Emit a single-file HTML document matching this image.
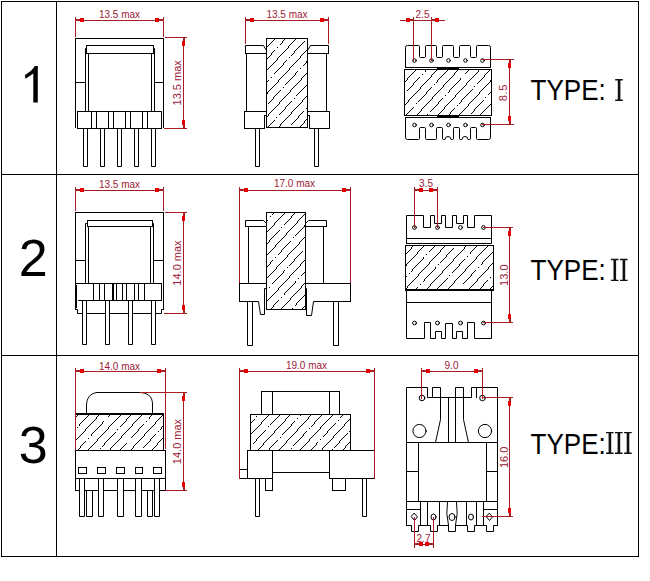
<!DOCTYPE html>
<html><head><meta charset="utf-8"><title>transformer types</title>
<style>
html,body{margin:0;padding:0;background:#fff;}
body{width:650px;height:581px;overflow:hidden;}
svg{display:block;}
text{font-family:"Liberation Sans",sans-serif;}
</style></head>
<body>
<svg width="650" height="581" viewBox="0 0 650 581">
<rect width="650" height="581" fill="#fff"/>
<g fill="none" stroke-width="1" stroke-linecap="square">
<rect x="1.5" y="1.5" width="637" height="555" stroke="#000" fill="none"/>
<path d="M56.5 1.5V556.5" stroke="#000"/>
<path d="M1.5 174.5H638.5" stroke="#000"/>
<path d="M1.5 355.5H638.5" stroke="#000"/>
<path d="M75.5 38.5V127.5" stroke="#000"/>
<path d="M163.5 38.5V127.5" stroke="#000"/>
<path d="M75.5 38.5H163.5" stroke="#000"/>
<path d="M75.5 82.5H85.5" stroke="#000"/>
<path d="M154.5 82.5H163.5" stroke="#000"/>
<rect x="86.5" y="45.5" width="67" height="8" stroke="#000" fill="none"/>
<path d="M86.5 48.5 L85.5 48.5 L85.5 111.5" stroke="#000"/>
<path d="M153.5 48.5 L154.5 48.5 L154.5 111.5" stroke="#000"/>
<path d="M88.5 53.5V111.5" stroke="#000"/>
<path d="M151.5 53.5V111.5" stroke="#000"/>
<rect x="77.5" y="111.5" width="84" height="17" stroke="#000" fill="none"/>
<path d="M91.5 111.5V128.5" stroke="#000"/>
<path d="M96.5 111.5V128.5" stroke="#000"/>
<path d="M108.5 111.5V128.5" stroke="#000"/>
<path d="M113.5 111.5V128.5" stroke="#000"/>
<path d="M125.5 111.5V128.5" stroke="#000"/>
<path d="M130.5 111.5V128.5" stroke="#000"/>
<path d="M142.5 111.5V128.5" stroke="#000"/>
<path d="M147.5 111.5V128.5" stroke="#000"/>
<path d="M83.5 128.5 L83.5 166.5 L87.5 166.5 L87.5 128.5" stroke="#000"/>
<path d="M100.5 128.5 L100.5 166.5 L104.5 166.5 L104.5 128.5" stroke="#000"/>
<path d="M117.5 128.5 L117.5 166.5 L121.5 166.5 L121.5 128.5" stroke="#000"/>
<path d="M134.5 128.5 L134.5 166.5 L138.5 166.5 L138.5 128.5" stroke="#000"/>
<path d="M151.5 128.5 L151.5 166.5 L155.5 166.5 L155.5 128.5" stroke="#000"/>
<path d="M75.5 17.5V36.5" stroke="#a81c24"/>
<path d="M163.5 17.5V36.5" stroke="#a81c24"/>
<path d="M75.5 20.5H163.5" stroke="#a81c24"/>
<rect x="76" y="19" width="4" height="2" fill="#a81c24" stroke="none"/>
<rect x="159" y="19" width="4" height="2" fill="#a81c24" stroke="none"/>
<rect x="80" y="18" width="4" height="4" fill="#e40000" stroke="none"/>
<rect x="155" y="18" width="4" height="4" fill="#e40000" stroke="none"/>
<text x="119.5" y="18" font-size="10" fill="#9c1a36" text-anchor="middle">13.5 max</text>
<path d="M165.5 37.5H186.5" stroke="#a81c24"/>
<path d="M164.5 128.5H186.5" stroke="#a81c24"/>
<path d="M183.5 37.5V128.5" stroke="#a81c24"/>
<rect x="183" y="38" width="2" height="3" fill="#a81c24" stroke="none"/>
<rect x="183" y="125" width="2" height="3" fill="#a81c24" stroke="none"/>
<rect x="182" y="41" width="3" height="5" fill="#e40000" stroke="none"/>
<rect x="182" y="120" width="3" height="5" fill="#e40000" stroke="none"/>
<text x="0" y="0" transform="translate(181 82.8) rotate(-90)" font-size="11" fill="#9c1a36" text-anchor="middle">13.5 max</text>
<path d="M274 39h1v1h-1zM273 40h1v1h-1zM272 41h1v1h-1zM271 42h1v1h-1zM270 43h1v1h-1zM269 44h1v1h-1zM268 45h1v1h-1zM267 46h1v1h-1zM284 39h1v1h-1zM283 40h1v1h-1zM282 41h1v2h-1zM281 43h1v1h-1zM280 44h1v1h-1zM277 47h1v1h-1zM274 50h1v1h-1zM273 51h1v1h-1zM272 52h1v1h-1zM271 53h1v2h-1zM270 55h1v1h-1zM269 56h1v1h-1zM268 57h1v1h-1zM267 58h1v1h-1zM295 39h1v1h-1zM294 40h1v1h-1zM293 41h1v1h-1zM292 42h1v1h-1zM291 43h1v1h-1zM290 44h1v1h-1zM289 45h1v1h-1zM288 46h1v2h-1zM287 48h1v1h-1zM286 49h1v1h-1zM285 50h1v1h-1zM284 51h1v1h-1zM283 52h1v1h-1zM282 53h1v1h-1zM281 54h1v1h-1zM280 55h1v1h-1zM279 56h1v1h-1zM278 57h1v1h-1zM277 58h1v2h-1zM276 60h1v1h-1zM275 61h1v1h-1zM274 62h1v1h-1zM273 63h1v1h-1zM272 64h1v1h-1zM271 65h1v1h-1zM270 66h1v1h-1zM269 67h1v1h-1zM268 68h1v1h-1zM267 69h1v1h-1zM304 41h1v1h-1zM303 42h1v1h-1zM302 43h1v1h-1zM301 44h1v1h-1zM300 45h1v1h-1zM299 46h1v1h-1zM298 47h1v1h-1zM297 48h1v1h-1zM296 49h1v1h-1zM295 50h1v1h-1zM294 51h1v2h-1zM293 53h1v1h-1zM292 54h1v1h-1zM291 55h1v1h-1zM289 57h1v1h-1zM286 60h1v1h-1zM285 61h1v1h-1zM284 62h1v1h-1zM283 63h1v2h-1zM282 65h1v1h-1zM281 66h1v1h-1zM280 67h1v1h-1zM279 68h1v1h-1zM278 69h1v1h-1zM277 70h1v1h-1zM276 71h1v1h-1zM275 72h1v1h-1zM274 73h1v1h-1zM271 77h1v1h-1zM268 80h1v1h-1zM267 81h1v1h-1zM306 50h1v1h-1zM305 51h1v1h-1zM304 52h1v1h-1zM303 53h1v1h-1zM302 54h1v1h-1zM301 55h1v1h-1zM300 56h1v2h-1zM299 58h1v1h-1zM298 59h1v1h-1zM297 60h1v1h-1zM296 61h1v1h-1zM295 62h1v1h-1zM294 63h1v1h-1zM293 64h1v1h-1zM292 65h1v1h-1zM291 66h1v1h-1zM290 67h1v1h-1zM289 68h1v2h-1zM288 70h1v1h-1zM287 71h1v1h-1zM286 72h1v1h-1zM285 73h1v1h-1zM284 74h1v1h-1zM283 75h1v1h-1zM282 76h1v1h-1zM281 77h1v1h-1zM280 78h1v1h-1zM279 79h1v1h-1zM278 80h1v2h-1zM277 82h1v1h-1zM276 83h1v1h-1zM275 84h1v1h-1zM274 85h1v1h-1zM273 86h1v1h-1zM272 87h1v1h-1zM271 88h1v1h-1zM270 89h1v1h-1zM269 90h1v1h-1zM268 91h1v1h-1zM267 92h1v2h-1zM306 61h1v2h-1zM305 63h1v1h-1zM304 64h1v1h-1zM303 65h1v1h-1zM300 68h1v1h-1zM297 71h1v1h-1zM296 72h1v1h-1zM295 73h1v2h-1zM294 75h1v1h-1zM293 76h1v1h-1zM292 77h1v1h-1zM291 78h1v1h-1zM290 79h1v1h-1zM289 80h1v1h-1zM288 81h1v1h-1zM287 82h1v1h-1zM286 83h1v1h-1zM285 84h1v1h-1zM283 87h1v1h-1zM280 90h1v1h-1zM279 91h1v1h-1zM278 92h1v1h-1zM277 93h1v1h-1zM276 94h1v1h-1zM275 95h1v1h-1zM274 96h1v1h-1zM273 97h1v2h-1zM272 99h1v1h-1zM271 100h1v1h-1zM270 101h1v1h-1zM269 102h1v1h-1zM268 103h1v1h-1zM306 73h1v1h-1zM305 74h1v1h-1zM304 75h1v1h-1zM303 76h1v1h-1zM302 77h1v1h-1zM301 78h1v2h-1zM300 80h1v1h-1zM299 81h1v1h-1zM298 82h1v1h-1zM297 83h1v1h-1zM296 84h1v1h-1zM295 85h1v1h-1zM294 86h1v1h-1zM293 87h1v1h-1zM292 88h1v1h-1zM291 89h1v1h-1zM290 90h1v2h-1zM289 92h1v1h-1zM288 93h1v1h-1zM287 94h1v1h-1zM286 95h1v1h-1zM285 96h1v1h-1zM284 97h1v1h-1zM283 98h1v1h-1zM282 99h1v1h-1zM281 100h1v1h-1zM280 101h1v1h-1zM279 102h1v2h-1zM278 104h1v1h-1zM277 105h1v1h-1zM276 106h1v1h-1zM275 107h1v1h-1zM274 108h1v1h-1zM273 109h1v1h-1zM272 110h1v1h-1zM271 111h1v1h-1zM270 112h1v1h-1zM269 113h1v1h-1zM268 114h1v2h-1zM267 116h1v1h-1zM306 85h1v1h-1zM305 86h1v1h-1zM304 87h1v1h-1zM303 88h1v1h-1zM302 89h1v1h-1zM301 90h1v1h-1zM300 91h1v1h-1zM299 92h1v1h-1zM298 93h1v1h-1zM297 94h1v1h-1zM296 95h1v1h-1zM294 98h1v1h-1zM291 101h1v1h-1zM290 102h1v1h-1zM289 103h1v1h-1zM288 104h1v1h-1zM287 105h1v1h-1zM286 106h1v1h-1zM285 107h1v2h-1zM284 109h1v1h-1zM283 110h1v1h-1zM282 111h1v1h-1zM281 112h1v1h-1zM280 113h1v1h-1zM279 114h1v1h-1zM276 117h1v1h-1zM274 120h1v1h-1zM273 121h1v1h-1zM272 122h1v1h-1zM271 123h1v1h-1zM270 124h1v1h-1zM269 125h1v1h-1zM268 126h1v1h-1zM306 96h1v1h-1zM305 97h1v1h-1zM304 98h1v1h-1zM303 99h1v1h-1zM302 100h1v2h-1zM301 102h1v1h-1zM300 103h1v1h-1zM299 104h1v1h-1zM298 105h1v1h-1zM297 106h1v1h-1zM296 107h1v1h-1zM295 108h1v1h-1zM294 109h1v1h-1zM293 110h1v1h-1zM292 111h1v1h-1zM291 112h1v2h-1zM290 114h1v1h-1zM289 115h1v1h-1zM288 116h1v1h-1zM287 117h1v1h-1zM286 118h1v1h-1zM285 119h1v1h-1zM284 120h1v1h-1zM283 121h1v1h-1zM282 122h1v1h-1zM281 123h1v1h-1zM280 124h1v2h-1zM279 126h1v1h-1zM306 108h1v1h-1zM303 111h1v1h-1zM302 112h1v1h-1zM301 113h1v1h-1zM300 114h1v1h-1zM299 115h1v1h-1zM298 116h1v2h-1zM297 118h1v1h-1zM296 119h1v1h-1zM295 120h1v1h-1zM294 121h1v1h-1zM293 122h1v1h-1zM292 123h1v1h-1zM291 124h1v1h-1zM306 119h1v1h-1zM305 120h1v1h-1zM304 121h1v2h-1zM303 123h1v1h-1zM302 124h1v1h-1zM301 125h1v1h-1zM300 126h1v1h-1z" fill="#000" stroke="none"/>
<rect x="266.5" y="38.5" width="41" height="89" stroke="#000" fill="none"/>
<path d="M245.5 53.5 L245.5 45.5 L263.5 45.5 L266.5 50.5" stroke="#000"/>
<path d="M245.5 53.5H266.5" stroke="#000"/>
<path d="M328.5 53.5 L328.5 45.5 L310.5 45.5 L307.5 50.5" stroke="#000"/>
<path d="M307.5 53.5H328.5" stroke="#000"/>
<path d="M246.5 53.5V111.5" stroke="#000"/>
<path d="M326.5 53.5V111.5" stroke="#000"/>
<path d="M244.5 111.5H266.5" stroke="#000"/>
<path d="M244.5 111.5V128.5" stroke="#000"/>
<path d="M244.5 128.5H264.5" stroke="#000"/>
<path d="M264.5 115.5V128.5" stroke="#000"/>
<path d="M264.5 115.5H266.5" stroke="#000"/>
<path d="M307.5 111.5H329.5" stroke="#000"/>
<path d="M329.5 111.5V128.5" stroke="#000"/>
<path d="M309.5 128.5H329.5" stroke="#000"/>
<path d="M309.5 115.5V128.5" stroke="#000"/>
<path d="M307.5 115.5H309.5" stroke="#000"/>
<path d="M255.5 128.5 L255.5 166.5 L259.5 166.5 L259.5 128.5" stroke="#000"/>
<path d="M314.5 128.5 L314.5 166.5 L318.5 166.5 L318.5 128.5" stroke="#000"/>
<path d="M245.5 17.5V43.5" stroke="#a81c24"/>
<path d="M328.5 17.5V43.5" stroke="#a81c24"/>
<path d="M245.5 20.5H328.5" stroke="#a81c24"/>
<rect x="246" y="19" width="4" height="2" fill="#a81c24" stroke="none"/>
<rect x="324" y="19" width="4" height="2" fill="#a81c24" stroke="none"/>
<rect x="250" y="18" width="4" height="4" fill="#e40000" stroke="none"/>
<rect x="320" y="18" width="4" height="4" fill="#e40000" stroke="none"/>
<text x="287" y="18.4" font-size="10" fill="#9c1a36" text-anchor="middle">13.5 max</text>
<path d="M405.5 67.5V47.5Q405.5 45.5 407.5 45.5H418.5Q419.5 45.5 419.5 46.5V56.5Q419.5 57.5 420.5 57.5H424.5Q425.5 57.5 425.5 56.5V46.5Q425.5 45.5 426.5 45.5H435.5Q436.5 45.5 436.5 46.5V56.5Q436.5 57.5 437.5 57.5H441.5Q442.5 57.5 442.5 56.5V46.5Q442.5 45.5 443.5 45.5H452.5Q453.5 45.5 453.5 46.5V56.5Q453.5 57.5 454.5 57.5H458.5Q459.5 57.5 459.5 56.5V46.5Q459.5 45.5 460.5 45.5H469.5Q470.5 45.5 470.5 46.5V56.5Q470.5 57.5 471.5 57.5H475.5Q476.5 57.5 476.5 56.5V46.5Q476.5 45.5 477.5 45.5H488.5Q490.5 45.5 490.5 47.5V67.5" stroke="#000" />
<path d="M405.5 67.5H490.5" stroke="#000"/>
<circle cx="414.5" cy="60.5" r="1.8" stroke="#000" fill="none"/>
<circle cx="431.5" cy="60.5" r="1.8" stroke="#000" fill="none"/>
<circle cx="448.5" cy="60.5" r="1.8" stroke="#000" fill="none"/>
<circle cx="465.5" cy="60.5" r="1.8" stroke="#000" fill="none"/>
<circle cx="482.5" cy="60.5" r="1.8" stroke="#000" fill="none"/>
<path d="M415 70h1v1h-1zM414 71h1v1h-1zM413 72h1v1h-1zM412 73h1v1h-1zM411 74h1v1h-1zM410 75h1v1h-1zM409 76h1v1h-1zM408 77h1v1h-1zM407 78h1v2h-1zM406 80h1v1h-1zM405 81h1v1h-1zM425 70h1v2h-1zM422 74h1v1h-1zM419 77h1v1h-1zM418 78h1v1h-1zM417 79h1v1h-1zM416 80h1v1h-1zM415 81h1v1h-1zM414 82h1v1h-1zM413 83h1v2h-1zM412 85h1v1h-1zM411 86h1v1h-1zM410 87h1v1h-1zM409 88h1v1h-1zM408 89h1v1h-1zM407 90h1v1h-1zM436 70h1v1h-1zM435 71h1v1h-1zM434 72h1v1h-1zM433 73h1v1h-1zM432 74h1v1h-1zM431 75h1v2h-1zM430 77h1v1h-1zM429 78h1v1h-1zM428 79h1v1h-1zM427 80h1v1h-1zM426 81h1v1h-1zM425 82h1v1h-1zM424 83h1v1h-1zM423 84h1v1h-1zM422 85h1v1h-1zM421 86h1v1h-1zM420 87h1v2h-1zM419 89h1v1h-1zM418 90h1v1h-1zM417 91h1v1h-1zM416 92h1v1h-1zM415 93h1v1h-1zM414 94h1v1h-1zM413 95h1v1h-1zM412 96h1v1h-1zM411 97h1v1h-1zM410 98h1v1h-1zM409 99h1v1h-1zM408 100h1v2h-1zM407 102h1v1h-1zM406 103h1v1h-1zM405 104h1v1h-1zM447 70h1v1h-1zM446 71h1v1h-1zM445 72h1v1h-1zM444 73h1v1h-1zM443 74h1v1h-1zM442 75h1v1h-1zM441 76h1v1h-1zM440 77h1v1h-1zM439 78h1v1h-1zM438 79h1v1h-1zM437 80h1v2h-1zM436 82h1v1h-1zM434 84h1v1h-1zM431 87h1v1h-1zM430 88h1v1h-1zM429 89h1v1h-1zM428 90h1v1h-1zM427 91h1v1h-1zM426 92h1v2h-1zM425 94h1v1h-1zM424 95h1v1h-1zM423 96h1v1h-1zM422 97h1v1h-1zM421 98h1v1h-1zM420 99h1v1h-1zM419 100h1v1h-1zM418 101h1v1h-1zM416 103h1v1h-1zM413 107h1v1h-1zM412 108h1v1h-1zM411 109h1v1h-1zM410 110h1v1h-1zM409 111h1v1h-1zM408 112h1v1h-1zM407 113h1v1h-1zM406 114h1v1h-1zM457 70h1v1h-1zM456 71h1v1h-1zM455 72h1v1h-1zM454 73h1v2h-1zM453 75h1v1h-1zM452 76h1v1h-1zM451 77h1v1h-1zM450 78h1v1h-1zM449 79h1v1h-1zM448 80h1v1h-1zM447 81h1v1h-1zM446 82h1v1h-1zM445 83h1v1h-1zM444 84h1v1h-1zM443 85h1v2h-1zM442 87h1v1h-1zM441 88h1v1h-1zM440 89h1v1h-1zM439 90h1v1h-1zM438 91h1v1h-1zM437 92h1v1h-1zM436 93h1v1h-1zM435 94h1v1h-1zM434 95h1v1h-1zM433 96h1v1h-1zM432 97h1v2h-1zM431 99h1v1h-1zM430 100h1v1h-1zM429 101h1v1h-1zM428 102h1v1h-1zM427 103h1v1h-1zM426 104h1v1h-1zM425 105h1v1h-1zM424 106h1v1h-1zM423 107h1v1h-1zM422 108h1v1h-1zM421 109h1v2h-1zM420 111h1v1h-1zM419 112h1v1h-1zM418 113h1v1h-1zM417 114h1v1h-1zM468 70h1v1h-1zM467 71h1v1h-1zM466 72h1v1h-1zM465 73h1v1h-1zM460 78h1v2h-1zM459 80h1v1h-1zM458 81h1v1h-1zM457 82h1v1h-1zM456 83h1v1h-1zM455 84h1v1h-1zM454 85h1v1h-1zM453 86h1v1h-1zM452 87h1v1h-1zM451 88h1v1h-1zM450 89h1v1h-1zM449 90h1v2h-1zM448 92h1v1h-1zM445 95h1v1h-1zM442 98h1v1h-1zM441 99h1v1h-1zM440 100h1v1h-1zM439 101h1v1h-1zM438 102h1v2h-1zM437 104h1v1h-1zM436 105h1v1h-1zM435 106h1v1h-1zM434 107h1v1h-1zM433 108h1v1h-1zM432 109h1v1h-1zM431 110h1v1h-1zM430 111h1v1h-1zM427 114h1v1h-1zM478 70h1v2h-1zM477 72h1v1h-1zM476 73h1v1h-1zM475 74h1v1h-1zM474 75h1v1h-1zM473 76h1v1h-1zM472 77h1v1h-1zM471 78h1v1h-1zM470 79h1v1h-1zM469 80h1v1h-1zM468 81h1v1h-1zM467 82h1v1h-1zM466 83h1v2h-1zM465 85h1v1h-1zM464 86h1v1h-1zM463 87h1v1h-1zM462 88h1v1h-1zM461 89h1v1h-1zM460 90h1v1h-1zM459 91h1v1h-1zM458 92h1v1h-1zM457 93h1v1h-1zM456 94h1v1h-1zM455 95h1v2h-1zM454 97h1v1h-1zM453 98h1v1h-1zM452 99h1v1h-1zM451 100h1v1h-1zM450 101h1v1h-1zM449 102h1v1h-1zM448 103h1v1h-1zM447 104h1v1h-1zM446 105h1v1h-1zM445 106h1v1h-1zM444 107h1v2h-1zM443 109h1v1h-1zM442 110h1v1h-1zM441 111h1v1h-1zM440 112h1v1h-1zM439 113h1v1h-1zM438 114h1v1h-1zM489 70h1v1h-1zM488 71h1v1h-1zM487 72h1v1h-1zM486 73h1v1h-1zM485 74h1v1h-1zM484 75h1v2h-1zM483 77h1v1h-1zM482 78h1v1h-1zM481 79h1v1h-1zM480 80h1v1h-1zM479 81h1v1h-1zM478 82h1v1h-1zM477 83h1v1h-1zM474 86h1v1h-1zM472 89h1v1h-1zM471 90h1v1h-1zM470 91h1v1h-1zM469 92h1v1h-1zM468 93h1v1h-1zM467 94h1v1h-1zM466 95h1v1h-1zM465 96h1v1h-1zM464 97h1v1h-1zM463 98h1v1h-1zM462 99h1v1h-1zM461 100h1v2h-1zM460 102h1v1h-1zM459 103h1v1h-1zM457 105h1v1h-1zM454 108h1v1h-1zM453 109h1v1h-1zM452 110h1v1h-1zM451 111h1v1h-1zM450 112h1v2h-1zM449 114h1v1h-1zM490 80h1v2h-1zM489 82h1v1h-1zM488 83h1v1h-1zM487 84h1v1h-1zM486 85h1v1h-1zM485 86h1v1h-1zM484 87h1v1h-1zM483 88h1v1h-1zM482 89h1v1h-1zM481 90h1v1h-1zM480 91h1v1h-1zM479 92h1v2h-1zM478 94h1v1h-1zM477 95h1v1h-1zM476 96h1v1h-1zM475 97h1v1h-1zM474 98h1v1h-1zM473 99h1v1h-1zM472 100h1v1h-1zM471 101h1v1h-1zM470 102h1v1h-1zM469 103h1v1h-1zM468 104h1v2h-1zM467 106h1v1h-1zM466 107h1v1h-1zM465 108h1v1h-1zM464 109h1v1h-1zM463 110h1v1h-1zM462 111h1v1h-1zM461 112h1v1h-1zM460 113h1v1h-1zM459 114h1v1h-1zM490 92h1v1h-1zM489 93h1v1h-1zM488 94h1v1h-1zM485 97h1v1h-1zM483 100h1v1h-1zM482 101h1v1h-1zM481 102h1v1h-1zM480 103h1v1h-1zM479 104h1v1h-1zM478 105h1v1h-1zM477 106h1v1h-1zM476 107h1v1h-1zM475 108h1v1h-1zM474 109h1v2h-1zM473 111h1v1h-1zM472 112h1v1h-1zM471 113h1v1h-1zM490 104h1v1h-1zM489 105h1v1h-1zM488 106h1v1h-1zM487 107h1v1h-1zM486 108h1v1h-1zM485 109h1v1h-1zM484 110h1v1h-1zM483 111h1v1h-1zM482 112h1v1h-1zM481 113h1v1h-1zM480 114h1v1h-1z" fill="#000" stroke="none"/>
<rect x="404.5" y="69.5" width="87" height="46" stroke="#000" fill="none"/>
<rect x="437" y="67" width="22" height="3" fill="#000" stroke="none"/>
<rect x="437" y="115" width="22" height="3" fill="#000" stroke="none"/>
<path d="M405.5 117.5H490.5" stroke="#000"/>
<path d="M405.5 117.5V137.5Q405.5 139.5 407.5 139.5H418.5Q419.5 139.5 419.5 138.5V128.5Q419.5 127.5 420.5 127.5H424.5Q425.5 127.5 425.5 128.5V138.5Q425.5 139.5 426.5 139.5H435.5Q436.5 139.5 436.5 138.5V128.5Q436.5 127.5 437.5 127.5H441.5Q442.5 127.5 442.5 128.5V138.5Q442.5 139.5 443.5 139.5H445.0A3 3 0 0 1 451.0 139.5H452.5Q453.5 139.5 453.5 138.5V128.5Q453.5 127.5 454.5 127.5H458.5Q459.5 127.5 459.5 128.5V138.5Q459.5 139.5 460.5 139.5H462.0A3 3 0 0 1 468.0 139.5H469.5Q470.5 139.5 470.5 138.5V128.5Q470.5 127.5 471.5 127.5H475.5Q476.5 127.5 476.5 128.5V138.5Q476.5 139.5 477.5 139.5H488.5Q490.5 139.5 490.5 137.5V117.5" stroke="#000" />
<circle cx="414.5" cy="125" r="1.8" stroke="#000" fill="none"/>
<circle cx="431.5" cy="125" r="1.8" stroke="#000" fill="none"/>
<circle cx="448.5" cy="125" r="1.8" stroke="#000" fill="none"/>
<circle cx="465.5" cy="125" r="1.8" stroke="#000" fill="none"/>
<circle cx="482.5" cy="125" r="1.8" stroke="#000" fill="none"/>
<path d="M413.5 17.5V60.5" stroke="#a81c24"/>
<path d="M431.5 17.5V60.5" stroke="#a81c24"/>
<path d="M400.5 20.5H444.5" stroke="#a81c24"/>
<rect x="410" y="19" width="3" height="2" fill="#a81c24" stroke="none"/>
<rect x="432" y="19" width="3" height="2" fill="#a81c24" stroke="none"/>
<rect x="406" y="18" width="4" height="4" fill="#e40000" stroke="none"/>
<rect x="435" y="18" width="4" height="4" fill="#e40000" stroke="none"/>
<text x="422.5" y="17.5" font-size="10" fill="#9c1a36" text-anchor="middle">2.5</text>
<path d="M482.5 59.5H513.5" stroke="#a81c24"/>
<path d="M482.5 124.5H513.5" stroke="#a81c24"/>
<path d="M509.5 59.5V124.5" stroke="#a81c24"/>
<rect x="509" y="60" width="2" height="3" fill="#a81c24" stroke="none"/>
<rect x="509" y="121" width="2" height="3" fill="#a81c24" stroke="none"/>
<rect x="508" y="63" width="3" height="5" fill="#e40000" stroke="none"/>
<rect x="508" y="116" width="3" height="5" fill="#e40000" stroke="none"/>
<text x="0" y="0" transform="translate(507 92.6) rotate(-90)" font-size="11" fill="#9c1a36" text-anchor="middle" letter-spacing="0.6">8.5</text>
<path d="M75.5 212.5V309.5" stroke="#000"/>
<path d="M163.5 212.5V309.5" stroke="#000"/>
<path d="M75.5 212.5H163.5" stroke="#000"/>
<path d="M75.5 260.5H85.5" stroke="#000"/>
<path d="M153.5 260.5H163.5" stroke="#000"/>
<rect x="87.5" y="220.5" width="65" height="6" stroke="#000" fill="none"/>
<path d="M87.5 223.5 L85.5 223.5 L85.5 283.5" stroke="#000"/>
<path d="M152.5 223.5 L153.5 223.5 L153.5 283.5" stroke="#000"/>
<path d="M88.5 226.5V283.5" stroke="#000"/>
<path d="M150.5 226.5V283.5" stroke="#000"/>
<path d="M75.5 283.5H161.5" stroke="#000"/>
<path d="M78.5 300.5H161.5" stroke="#000"/>
<path d="M161.5 283.5V300.5" stroke="#000"/>
<path d="M76.5 285.5V307.5" stroke="#000"/>
<path d="M93.5 283.5V300.5" stroke="#000"/>
<path d="M99.5 283.5V300.5" stroke="#000"/>
<path d="M104.5 283.5V300.5" stroke="#000"/>
<path d="M112.5 283.5V300.5" stroke="#000"/>
<path d="M113.5 283.5V300.5" stroke="#000"/>
<path d="M116.5 283.5V300.5" stroke="#000"/>
<path d="M122.5 283.5V300.5" stroke="#000"/>
<path d="M126.5 283.5V300.5" stroke="#000"/>
<path d="M134.5 283.5V300.5" stroke="#000"/>
<path d="M138.5 283.5V300.5" stroke="#000"/>
<path d="M144.5 283.5V300.5" stroke="#000"/>
<path d="M75.5 309.5 L77.5 309.5 L77.5 313.5 L161.5 313.5 L161.5 309.5 L163.5 309.5" stroke="#000"/>
<rect x="83" y="301" width="3" height="13" fill="#fff" stroke="none"/>
<path d="M82.5 300.5 L82.5 344.5 L86.5 344.5 L86.5 300.5" stroke="#000"/>
<rect x="106" y="301" width="3" height="13" fill="#fff" stroke="none"/>
<path d="M105.5 300.5 L105.5 344.5 L109.5 344.5 L109.5 300.5" stroke="#000"/>
<rect x="129" y="301" width="3" height="13" fill="#fff" stroke="none"/>
<path d="M128.5 300.5 L128.5 344.5 L132.5 344.5 L132.5 300.5" stroke="#000"/>
<rect x="152" y="301" width="3" height="13" fill="#fff" stroke="none"/>
<path d="M151.5 300.5 L151.5 344.5 L155.5 344.5 L155.5 300.5" stroke="#000"/>
<path d="M75.5 187.5V210.5" stroke="#a81c24"/>
<path d="M163.5 187.5V210.5" stroke="#a81c24"/>
<path d="M75.5 190.5H163.5" stroke="#a81c24"/>
<rect x="76" y="189" width="4" height="2" fill="#a81c24" stroke="none"/>
<rect x="159" y="189" width="4" height="2" fill="#a81c24" stroke="none"/>
<rect x="80" y="188" width="4" height="4" fill="#e40000" stroke="none"/>
<rect x="155" y="188" width="4" height="4" fill="#e40000" stroke="none"/>
<text x="119.5" y="187.5" font-size="10" fill="#9c1a36" text-anchor="middle">13.5 max</text>
<path d="M165.5 212.5H186.5" stroke="#a81c24"/>
<path d="M164.5 313.5H186.5" stroke="#a81c24"/>
<path d="M183.5 212.5V313.5" stroke="#a81c24"/>
<rect x="183" y="213" width="2" height="3" fill="#a81c24" stroke="none"/>
<rect x="183" y="310" width="2" height="3" fill="#a81c24" stroke="none"/>
<rect x="182" y="216" width="3" height="5" fill="#e40000" stroke="none"/>
<rect x="182" y="305" width="3" height="5" fill="#e40000" stroke="none"/>
<text x="0" y="0" transform="translate(181 263) rotate(-90)" font-size="11" fill="#9c1a36" text-anchor="middle">14.0 max</text>
<path d="M273 213h1v1h-1zM272 214h1v1h-1zM270 216h1v1h-1zM267 220h1v1h-1zM284 213h1v1h-1zM283 214h1v1h-1zM282 215h1v1h-1zM281 216h1v1h-1zM280 217h1v1h-1zM279 218h1v1h-1zM278 219h1v1h-1zM277 220h1v1h-1zM276 221h1v1h-1zM275 222h1v1h-1zM274 223h1v2h-1zM273 225h1v1h-1zM272 226h1v1h-1zM271 227h1v1h-1zM270 228h1v1h-1zM269 229h1v1h-1zM268 230h1v1h-1zM267 231h1v1h-1zM294 213h1v1h-1zM293 214h1v1h-1zM292 215h1v1h-1zM291 216h1v2h-1zM290 218h1v1h-1zM289 219h1v1h-1zM288 220h1v1h-1zM287 221h1v1h-1zM286 222h1v1h-1zM285 223h1v1h-1zM284 224h1v1h-1zM281 227h1v1h-1zM279 230h1v1h-1zM278 231h1v1h-1zM277 232h1v1h-1zM276 233h1v1h-1zM275 234h1v1h-1zM274 235h1v1h-1zM273 236h1v1h-1zM272 237h1v1h-1zM271 238h1v1h-1zM270 239h1v1h-1zM269 240h1v2h-1zM268 242h1v1h-1zM267 243h1v1h-1zM304 214h1v1h-1zM303 215h1v1h-1zM302 216h1v1h-1zM301 217h1v1h-1zM300 218h1v1h-1zM299 219h1v1h-1zM298 220h1v1h-1zM297 221h1v2h-1zM296 223h1v1h-1zM295 224h1v1h-1zM294 225h1v1h-1zM293 226h1v1h-1zM292 227h1v1h-1zM291 228h1v1h-1zM290 229h1v1h-1zM289 230h1v1h-1zM288 231h1v1h-1zM287 232h1v1h-1zM286 233h1v2h-1zM285 235h1v1h-1zM284 236h1v1h-1zM283 237h1v1h-1zM282 238h1v1h-1zM281 239h1v1h-1zM280 240h1v1h-1zM279 241h1v1h-1zM278 242h1v1h-1zM277 243h1v1h-1zM276 244h1v1h-1zM275 245h1v2h-1zM274 247h1v1h-1zM273 248h1v1h-1zM272 249h1v1h-1zM271 250h1v1h-1zM270 251h1v1h-1zM269 252h1v1h-1zM268 253h1v1h-1zM267 254h1v1h-1zM304 225h1v2h-1zM303 227h1v1h-1zM302 228h1v1h-1zM301 229h1v1h-1zM300 230h1v1h-1zM299 231h1v1h-1zM298 232h1v1h-1zM297 233h1v1h-1zM296 234h1v1h-1zM295 235h1v1h-1zM293 237h1v1h-1zM290 241h1v1h-1zM289 242h1v1h-1zM288 243h1v1h-1zM287 244h1v1h-1zM286 245h1v1h-1zM285 246h1v1h-1zM284 247h1v1h-1zM283 248h1v1h-1zM282 249h1v1h-1zM281 250h1v2h-1zM280 252h1v1h-1zM279 253h1v1h-1zM278 254h1v1h-1zM275 257h1v1h-1zM272 260h1v1h-1zM271 261h1v1h-1zM270 262h1v2h-1zM269 264h1v1h-1zM268 265h1v1h-1zM267 266h1v1h-1zM304 237h1v1h-1zM303 238h1v1h-1zM302 239h1v1h-1zM301 240h1v1h-1zM300 241h1v1h-1zM299 242h1v2h-1zM298 244h1v1h-1zM297 245h1v1h-1zM296 246h1v1h-1zM295 247h1v1h-1zM294 248h1v1h-1zM293 249h1v1h-1zM292 250h1v1h-1zM291 251h1v1h-1zM290 252h1v1h-1zM289 253h1v1h-1zM288 254h1v1h-1zM287 255h1v2h-1zM286 257h1v1h-1zM285 258h1v1h-1zM284 259h1v1h-1zM283 260h1v1h-1zM282 261h1v1h-1zM281 262h1v1h-1zM280 263h1v1h-1zM279 264h1v1h-1zM278 265h1v1h-1zM277 266h1v1h-1zM276 267h1v2h-1zM275 269h1v1h-1zM274 270h1v1h-1zM273 271h1v1h-1zM272 272h1v1h-1zM271 273h1v1h-1zM270 274h1v1h-1zM269 275h1v1h-1zM268 276h1v1h-1zM267 277h1v1h-1zM302 251h1v1h-1zM301 252h1v1h-1zM300 253h1v1h-1zM299 254h1v1h-1zM298 255h1v1h-1zM297 256h1v1h-1zM296 257h1v1h-1zM295 258h1v1h-1zM294 259h1v2h-1zM293 261h1v1h-1zM292 262h1v1h-1zM291 263h1v1h-1zM290 264h1v1h-1zM289 265h1v1h-1zM287 267h1v1h-1zM284 270h1v1h-1zM283 271h1v2h-1zM282 273h1v1h-1zM281 274h1v1h-1zM280 275h1v1h-1zM279 276h1v1h-1zM278 277h1v1h-1zM277 278h1v1h-1zM276 279h1v1h-1zM275 280h1v1h-1zM274 281h1v1h-1zM273 282h1v1h-1zM272 283h1v1h-1zM269 287h1v1h-1zM304 260h1v1h-1zM303 261h1v1h-1zM302 262h1v1h-1zM301 263h1v1h-1zM300 264h1v2h-1zM299 266h1v1h-1zM298 267h1v1h-1zM297 268h1v1h-1zM296 269h1v1h-1zM295 270h1v1h-1zM294 271h1v1h-1zM293 272h1v1h-1zM292 273h1v1h-1zM291 274h1v1h-1zM290 275h1v1h-1zM289 276h1v2h-1zM288 278h1v1h-1zM287 279h1v1h-1zM286 280h1v1h-1zM285 281h1v1h-1zM284 282h1v1h-1zM283 283h1v1h-1zM282 284h1v1h-1zM281 285h1v1h-1zM280 286h1v1h-1zM279 287h1v1h-1zM278 288h1v2h-1zM277 290h1v1h-1zM276 291h1v1h-1zM275 292h1v1h-1zM274 293h1v1h-1zM273 294h1v1h-1zM272 295h1v1h-1zM271 296h1v1h-1zM270 297h1v1h-1zM269 298h1v1h-1zM268 299h1v1h-1zM267 300h1v1h-1zM304 272h1v1h-1zM303 273h1v1h-1zM302 274h1v1h-1zM301 275h1v1h-1zM298 278h1v1h-1zM295 281h1v2h-1zM294 283h1v1h-1zM293 284h1v1h-1zM292 285h1v1h-1zM291 286h1v1h-1zM290 287h1v1h-1zM289 288h1v1h-1zM288 289h1v1h-1zM287 290h1v1h-1zM286 291h1v1h-1zM285 292h1v1h-1zM284 293h1v2h-1zM281 297h1v1h-1zM278 300h1v1h-1zM277 301h1v1h-1zM276 302h1v1h-1zM275 303h1v1h-1zM274 304h1v1h-1zM273 305h1v2h-1zM272 307h1v1h-1zM271 308h1v1h-1zM304 283h1v1h-1zM303 284h1v1h-1zM302 285h1v1h-1zM301 286h1v2h-1zM300 288h1v1h-1zM299 289h1v1h-1zM298 290h1v1h-1zM297 291h1v1h-1zM296 292h1v1h-1zM295 293h1v1h-1zM294 294h1v1h-1zM293 295h1v1h-1zM292 296h1v1h-1zM291 297h1v1h-1zM290 298h1v2h-1zM289 300h1v1h-1zM288 301h1v1h-1zM287 302h1v1h-1zM286 303h1v1h-1zM285 304h1v1h-1zM284 305h1v1h-1zM283 306h1v1h-1zM282 307h1v1h-1zM281 308h1v1h-1zM304 295h1v1h-1zM303 296h1v1h-1zM302 297h1v1h-1zM301 298h1v1h-1zM300 299h1v1h-1zM299 300h1v1h-1zM298 301h1v1h-1zM297 302h1v1h-1zM296 303h1v2h-1zM295 305h1v1h-1zM292 308h1v1h-1zM304 306h1v1h-1zM303 307h1v1h-1zM302 308h1v1h-1z" fill="#000" stroke="none"/>
<rect x="266.5" y="212.5" width="39" height="97" stroke="#000" fill="none"/>
<path d="M245.5 226.5 L245.5 220.5 L263.5 220.5 L266.5 223.5" stroke="#000"/>
<path d="M245.5 226.5H266.5" stroke="#000"/>
<path d="M326.5 226.5 L326.5 220.5 L308.5 220.5 L305.5 223.5" stroke="#000"/>
<path d="M305.5 226.5H326.5" stroke="#000"/>
<path d="M248.5 226.5V283.5" stroke="#000"/>
<path d="M323.5 226.5V283.5" stroke="#000"/>
<path d="M239.5 283.5H266.5" stroke="#000"/>
<path d="M305.5 283.5H350.5" stroke="#000"/>
<path d="M239.5 283.5V301.5" stroke="#000"/>
<path d="M350.5 283.5V301.5" stroke="#000"/>
<path d="M239.5 301.5 L258.5 301.5 L260.5 314.5 L264.5 314.5 L264.5 288.5 L266.5 288.5" stroke="#000"/>
<path d="M350.5 301.5 L313.5 301.5 L311.5 315.5 L306.5 315.5 L306.5 288.5 L305.5 288.5" stroke="#000"/>
<path d="M247.5 301.5 L247.5 345.5 L252.5 345.5 L252.5 301.5" stroke="#000"/>
<path d="M333.5 301.5 L333.5 345.5 L338.5 345.5 L338.5 301.5" stroke="#000"/>
<path d="M239.5 187.5V282.5" stroke="#a81c24"/>
<path d="M350.5 187.5V282.5" stroke="#a81c24"/>
<path d="M239.5 190.5H350.5" stroke="#a81c24"/>
<rect x="240" y="189" width="4" height="2" fill="#a81c24" stroke="none"/>
<rect x="346" y="189" width="4" height="2" fill="#a81c24" stroke="none"/>
<rect x="244" y="188" width="4" height="4" fill="#e40000" stroke="none"/>
<rect x="342" y="188" width="4" height="4" fill="#e40000" stroke="none"/>
<text x="294.5" y="186.5" font-size="10" fill="#9c1a36" text-anchor="middle">17.0 max</text>
<path d="M406.5 243.5 L406.5 215.5 L423.5 215.5 L423.5 227.5 L430.5 227.5 L430.5 215.5 L434.5 215.5 L434.5 223.5 L441.5 223.5 L441.5 215.5 L445.5 215.5 L445.5 227.5 L452.5 227.5 L452.5 215.5 L456.5 215.5 L456.5 223.5 L463.5 223.5 L463.5 215.5 L467.5 215.5 L467.5 227.5 L474.5 227.5 L474.5 215.5 L491.5 215.5 L491.5 243.5 L406.5 243.5" stroke="#000"/>
<path d="M406.5 238.5H491.5" stroke="#000"/>
<circle cx="414.5" cy="227.5" r="1.9" stroke="#000" fill="none"/>
<circle cx="437.5" cy="227.5" r="1.9" stroke="#000" fill="none"/>
<circle cx="460.5" cy="227.5" r="1.9" stroke="#000" fill="none"/>
<circle cx="483.5" cy="227.5" r="1.9" stroke="#000" fill="none"/>
<path d="M412 246h1v1h-1zM411 247h1v2h-1zM410 249h1v1h-1zM409 250h1v1h-1zM408 251h1v1h-1zM407 252h1v1h-1zM406 253h1v1h-1zM423 246h1v1h-1zM422 247h1v1h-1zM421 248h1v1h-1zM420 249h1v1h-1zM419 250h1v1h-1zM418 251h1v1h-1zM417 252h1v2h-1zM416 254h1v1h-1zM415 255h1v1h-1zM414 256h1v1h-1zM413 257h1v1h-1zM412 258h1v1h-1zM411 259h1v1h-1zM410 260h1v1h-1zM409 261h1v1h-1zM408 262h1v1h-1zM407 263h1v1h-1zM406 264h1v2h-1zM434 246h1v1h-1zM433 247h1v1h-1zM432 248h1v1h-1zM431 249h1v1h-1zM430 250h1v1h-1zM429 251h1v1h-1zM426 254h1v1h-1zM423 257h1v2h-1zM422 259h1v1h-1zM421 260h1v1h-1zM420 261h1v1h-1zM419 262h1v1h-1zM418 263h1v1h-1zM417 264h1v1h-1zM416 265h1v1h-1zM415 266h1v1h-1zM414 267h1v1h-1zM413 268h1v1h-1zM412 269h1v2h-1zM411 271h1v1h-1zM409 273h1v1h-1zM406 276h1v1h-1zM444 246h1v1h-1zM443 247h1v1h-1zM442 248h1v1h-1zM441 249h1v1h-1zM440 250h1v2h-1zM439 252h1v1h-1zM438 253h1v1h-1zM437 254h1v1h-1zM436 255h1v1h-1zM435 256h1v1h-1zM434 257h1v1h-1zM433 258h1v1h-1zM432 259h1v1h-1zM431 260h1v1h-1zM430 261h1v1h-1zM429 262h1v2h-1zM428 264h1v1h-1zM427 265h1v1h-1zM426 266h1v1h-1zM425 267h1v1h-1zM424 268h1v1h-1zM423 269h1v1h-1zM422 270h1v1h-1zM421 271h1v1h-1zM420 272h1v1h-1zM419 273h1v1h-1zM418 274h1v2h-1zM417 276h1v1h-1zM416 277h1v1h-1zM415 278h1v1h-1zM414 279h1v1h-1zM413 280h1v1h-1zM412 281h1v1h-1zM411 282h1v1h-1zM410 283h1v1h-1zM409 284h1v1h-1zM408 285h1v1h-1zM407 286h1v2h-1zM406 288h1v1h-1zM453 248h1v1h-1zM452 249h1v1h-1zM451 250h1v1h-1zM450 251h1v1h-1zM449 252h1v1h-1zM448 253h1v1h-1zM447 254h1v1h-1zM446 255h1v2h-1zM445 257h1v1h-1zM444 258h1v1h-1zM443 259h1v1h-1zM442 260h1v1h-1zM441 261h1v1h-1zM440 262h1v1h-1zM438 264h1v1h-1zM435 267h1v2h-1zM434 269h1v1h-1zM433 270h1v1h-1zM432 271h1v1h-1zM431 272h1v1h-1zM430 273h1v1h-1zM429 274h1v1h-1zM428 275h1v1h-1zM427 276h1v1h-1zM426 277h1v1h-1zM425 278h1v1h-1zM424 279h1v2h-1zM423 281h1v1h-1zM420 284h1v1h-1zM417 287h1v1h-1zM416 288h1v1h-1zM465 246h1v1h-1zM464 247h1v2h-1zM463 249h1v1h-1zM462 250h1v1h-1zM461 251h1v1h-1zM460 252h1v1h-1zM459 253h1v1h-1zM458 254h1v1h-1zM457 255h1v1h-1zM456 256h1v1h-1zM455 257h1v1h-1zM454 258h1v1h-1zM453 259h1v2h-1zM452 261h1v1h-1zM451 262h1v1h-1zM450 263h1v1h-1zM449 264h1v1h-1zM448 265h1v1h-1zM447 266h1v1h-1zM446 267h1v1h-1zM445 268h1v1h-1zM444 269h1v1h-1zM443 270h1v1h-1zM442 271h1v2h-1zM441 273h1v1h-1zM440 274h1v1h-1zM439 275h1v1h-1zM438 276h1v1h-1zM437 277h1v1h-1zM436 278h1v1h-1zM435 279h1v1h-1zM434 280h1v1h-1zM433 281h1v1h-1zM432 282h1v1h-1zM431 283h1v1h-1zM430 284h1v2h-1zM429 286h1v1h-1zM428 287h1v1h-1zM427 288h1v1h-1zM476 246h1v1h-1zM475 247h1v1h-1zM474 248h1v1h-1zM473 249h1v1h-1zM472 250h1v1h-1zM471 251h1v1h-1zM470 252h1v2h-1zM467 256h1v1h-1zM464 259h1v1h-1zM463 260h1v1h-1zM462 261h1v1h-1zM461 262h1v1h-1zM460 263h1v1h-1zM459 264h1v2h-1zM458 266h1v1h-1zM457 267h1v1h-1zM456 268h1v1h-1zM455 269h1v1h-1zM454 270h1v1h-1zM453 271h1v1h-1zM452 272h1v1h-1zM449 275h1v1h-1zM447 278h1v1h-1zM446 279h1v1h-1zM445 280h1v1h-1zM444 281h1v1h-1zM443 282h1v1h-1zM442 283h1v1h-1zM441 284h1v1h-1zM440 285h1v1h-1zM439 286h1v1h-1zM438 287h1v1h-1zM437 288h1v1h-1zM487 246h1v1h-1zM486 247h1v1h-1zM485 248h1v1h-1zM484 249h1v1h-1zM483 250h1v1h-1zM482 251h1v1h-1zM481 252h1v1h-1zM480 253h1v1h-1zM479 254h1v1h-1zM478 255h1v1h-1zM477 256h1v1h-1zM476 257h1v2h-1zM475 259h1v1h-1zM474 260h1v1h-1zM473 261h1v1h-1zM472 262h1v1h-1zM471 263h1v1h-1zM470 264h1v1h-1zM469 265h1v1h-1zM468 266h1v1h-1zM467 267h1v1h-1zM466 268h1v1h-1zM465 269h1v2h-1zM464 271h1v1h-1zM463 272h1v1h-1zM462 273h1v1h-1zM461 274h1v1h-1zM460 275h1v1h-1zM459 276h1v1h-1zM458 277h1v1h-1zM457 278h1v1h-1zM456 279h1v1h-1zM455 280h1v1h-1zM454 281h1v2h-1zM453 283h1v1h-1zM452 284h1v1h-1zM451 285h1v1h-1zM450 286h1v1h-1zM449 287h1v1h-1zM448 288h1v1h-1zM492 252h1v1h-1zM491 253h1v1h-1zM490 254h1v1h-1zM489 255h1v1h-1zM488 256h1v1h-1zM487 257h1v1h-1zM486 258h1v1h-1zM485 259h1v1h-1zM484 260h1v1h-1zM483 261h1v1h-1zM482 262h1v2h-1zM481 264h1v1h-1zM478 267h1v1h-1zM475 270h1v1h-1zM474 271h1v1h-1zM473 272h1v1h-1zM472 273h1v1h-1zM471 274h1v2h-1zM470 276h1v1h-1zM469 277h1v1h-1zM468 278h1v1h-1zM467 279h1v1h-1zM466 280h1v1h-1zM465 281h1v1h-1zM464 282h1v1h-1zM463 283h1v1h-1zM492 263h1v1h-1zM491 264h1v1h-1zM490 265h1v1h-1zM489 266h1v1h-1zM488 267h1v2h-1zM487 269h1v1h-1zM486 270h1v1h-1zM485 271h1v1h-1zM484 272h1v1h-1zM483 273h1v1h-1zM482 274h1v1h-1zM481 275h1v1h-1zM480 276h1v1h-1zM479 277h1v1h-1zM478 278h1v1h-1zM477 279h1v2h-1zM476 281h1v1h-1zM475 282h1v1h-1zM474 283h1v1h-1zM473 284h1v1h-1zM472 285h1v1h-1zM471 286h1v1h-1zM470 287h1v1h-1zM469 288h1v1h-1zM490 277h1v1h-1zM487 280h1v1h-1zM486 281h1v1h-1zM485 282h1v1h-1zM484 283h1v1h-1zM483 284h1v2h-1zM482 286h1v1h-1zM481 287h1v1h-1zM480 288h1v1h-1zM492 286h1v1h-1zM491 287h1v1h-1zM490 288h1v1h-1z" fill="#000" stroke="none"/>
<rect x="405.5" y="245.5" width="88" height="44" stroke="#000" fill="none"/>
<path d="M405.5 290.5H493.5" stroke="#000"/>
<path d="M406.5 290.5 L406.5 338.5 L424.5 338.5 L424.5 322.5 L430.5 322.5 L430.5 338.5 L435.5 338.5 L435.5 331.5 L441.5 331.5 L441.5 338.5 L445.5 338.5 L445.5 323.5 L452.5 323.5 L452.5 338.5 L456.5 338.5 L456.5 331.5 L462.5 331.5 L462.5 338.5 L467.5 338.5 L467.5 322.5 L474.5 322.5 L474.5 338.5 L491.5 338.5 L491.5 290.5" stroke="#000"/>
<path d="M406.5 302.5H491.5" stroke="#000"/>
<circle cx="414.5" cy="323" r="1.9" stroke="#000" fill="none"/>
<circle cx="437.5" cy="323" r="1.9" stroke="#000" fill="none"/>
<circle cx="460.5" cy="323" r="1.9" stroke="#000" fill="none"/>
<circle cx="483.5" cy="323" r="1.9" stroke="#000" fill="none"/>
<path d="M414.5 187.5V227.5" stroke="#a81c24"/>
<path d="M437.5 187.5V227.5" stroke="#a81c24"/>
<path d="M414.5 190.5H437.5" stroke="#a81c24"/>
<rect x="415" y="189" width="4" height="2" fill="#a81c24" stroke="none"/>
<rect x="433" y="189" width="4" height="2" fill="#a81c24" stroke="none"/>
<rect x="419" y="188" width="4" height="4" fill="#e40000" stroke="none"/>
<rect x="429" y="188" width="4" height="4" fill="#e40000" stroke="none"/>
<text x="426" y="186.5" font-size="10" fill="#9c1a36" text-anchor="middle">3.5</text>
<path d="M483.5 227.5H512.5" stroke="#a81c24"/>
<path d="M483.5 322.5H512.5" stroke="#a81c24"/>
<path d="M509.5 227.5V322.5" stroke="#a81c24"/>
<rect x="509" y="228" width="2" height="3" fill="#a81c24" stroke="none"/>
<rect x="509" y="319" width="2" height="3" fill="#a81c24" stroke="none"/>
<rect x="508" y="231" width="3" height="5" fill="#e40000" stroke="none"/>
<rect x="508" y="314" width="3" height="5" fill="#e40000" stroke="none"/>
<text x="0" y="0" transform="translate(508 275.2) rotate(-90)" font-size="11" fill="#9c1a36" text-anchor="middle">13.0</text>
<path d="M86.5 413V406C86.5 398 90 393.5 97 392.5H139C147 392.5 152.5 396 152.5 404V413" stroke="#000" />
<path d="M78 414h1v1h-1zM77 415h1v1h-1zM76 416h1v1h-1zM89 414h1v1h-1zM88 415h1v1h-1zM87 416h1v1h-1zM86 417h1v1h-1zM85 418h1v1h-1zM84 419h1v1h-1zM83 420h1v1h-1zM82 421h1v1h-1zM81 422h1v1h-1zM80 423h1v1h-1zM79 424h1v2h-1zM77 427h1v1h-1zM99 414h1v1h-1zM98 415h1v1h-1zM97 416h1v1h-1zM96 417h1v2h-1zM95 419h1v1h-1zM94 420h1v1h-1zM93 421h1v1h-1zM92 422h1v1h-1zM91 423h1v1h-1zM90 424h1v1h-1zM89 425h1v1h-1zM88 426h1v1h-1zM87 427h1v1h-1zM86 428h1v1h-1zM85 429h1v2h-1zM84 431h1v1h-1zM83 432h1v1h-1zM82 433h1v1h-1zM81 434h1v1h-1zM80 435h1v1h-1zM79 436h1v1h-1zM78 437h1v1h-1zM77 438h1v1h-1zM76 439h1v1h-1zM110 414h1v1h-1zM109 415h1v1h-1zM108 416h1v1h-1zM103 421h1v1h-1zM102 422h1v2h-1zM101 424h1v1h-1zM100 425h1v1h-1zM99 426h1v1h-1zM98 427h1v1h-1zM97 428h1v1h-1zM96 429h1v1h-1zM95 430h1v1h-1zM94 431h1v1h-1zM93 432h1v1h-1zM92 433h1v1h-1zM91 434h1v2h-1zM88 438h1v1h-1zM85 441h1v1h-1zM84 442h1v1h-1zM83 443h1v1h-1zM82 444h1v1h-1zM81 445h1v1h-1zM80 446h1v2h-1zM79 448h1v1h-1zM78 449h1v1h-1zM120 414h1v2h-1zM119 416h1v1h-1zM118 417h1v1h-1zM117 418h1v1h-1zM116 419h1v1h-1zM115 420h1v1h-1zM114 421h1v1h-1zM113 422h1v1h-1zM112 423h1v1h-1zM111 424h1v1h-1zM110 425h1v1h-1zM109 426h1v1h-1zM108 427h1v2h-1zM107 429h1v1h-1zM106 430h1v1h-1zM105 431h1v1h-1zM104 432h1v1h-1zM103 433h1v1h-1zM102 434h1v1h-1zM101 435h1v1h-1zM100 436h1v1h-1zM99 437h1v1h-1zM98 438h1v1h-1zM97 439h1v2h-1zM96 441h1v1h-1zM95 442h1v1h-1zM94 443h1v1h-1zM93 444h1v1h-1zM92 445h1v1h-1zM91 446h1v1h-1zM90 447h1v1h-1zM89 448h1v1h-1zM88 449h1v1h-1zM131 414h1v1h-1zM130 415h1v1h-1zM129 416h1v1h-1zM128 417h1v1h-1zM127 418h1v1h-1zM126 419h1v2h-1zM125 421h1v1h-1zM124 422h1v1h-1zM123 423h1v1h-1zM122 424h1v1h-1zM121 425h1v1h-1zM120 426h1v1h-1zM117 429h1v1h-1zM115 432h1v1h-1zM114 433h1v1h-1zM113 434h1v1h-1zM112 435h1v1h-1zM111 436h1v1h-1zM110 437h1v1h-1zM109 438h1v1h-1zM108 439h1v1h-1zM107 440h1v1h-1zM106 441h1v1h-1zM105 442h1v1h-1zM104 443h1v2h-1zM103 445h1v1h-1zM102 446h1v1h-1zM100 448h1v1h-1zM142 414h1v1h-1zM141 415h1v1h-1zM140 416h1v1h-1zM139 417h1v1h-1zM138 418h1v1h-1zM137 419h1v1h-1zM136 420h1v1h-1zM135 421h1v1h-1zM134 422h1v1h-1zM133 423h1v1h-1zM132 424h1v2h-1zM131 426h1v1h-1zM130 427h1v1h-1zM129 428h1v1h-1zM128 429h1v1h-1zM127 430h1v1h-1zM126 431h1v1h-1zM125 432h1v1h-1zM124 433h1v1h-1zM123 434h1v1h-1zM122 435h1v1h-1zM121 436h1v2h-1zM120 438h1v1h-1zM119 439h1v1h-1zM118 440h1v1h-1zM117 441h1v1h-1zM116 442h1v1h-1zM115 443h1v1h-1zM114 444h1v1h-1zM113 445h1v1h-1zM112 446h1v1h-1zM111 447h1v1h-1zM110 448h1v2h-1zM152 414h1v1h-1zM151 415h1v1h-1zM150 416h1v1h-1zM149 417h1v2h-1zM146 421h1v1h-1zM143 424h1v1h-1zM142 425h1v1h-1zM141 426h1v1h-1zM140 427h1v1h-1zM139 428h1v1h-1zM138 429h1v2h-1zM137 431h1v1h-1zM136 432h1v1h-1zM135 433h1v1h-1zM134 434h1v1h-1zM133 435h1v1h-1zM132 436h1v1h-1zM131 437h1v1h-1zM126 443h1v1h-1zM125 444h1v1h-1zM124 445h1v1h-1zM123 446h1v1h-1zM122 447h1v1h-1zM121 448h1v1h-1zM120 449h1v1h-1zM162 415h1v1h-1zM161 416h1v1h-1zM160 417h1v1h-1zM159 418h1v1h-1zM158 419h1v1h-1zM157 420h1v1h-1zM156 421h1v1h-1zM155 422h1v2h-1zM154 424h1v1h-1zM153 425h1v1h-1zM152 426h1v1h-1zM151 427h1v1h-1zM150 428h1v1h-1zM149 429h1v1h-1zM148 430h1v1h-1zM147 431h1v1h-1zM146 432h1v1h-1zM145 433h1v1h-1zM144 434h1v2h-1zM143 436h1v1h-1zM142 437h1v1h-1zM141 438h1v1h-1zM140 439h1v1h-1zM139 440h1v1h-1zM138 441h1v1h-1zM137 442h1v1h-1zM136 443h1v1h-1zM135 444h1v1h-1zM134 445h1v1h-1zM133 446h1v2h-1zM132 448h1v1h-1zM131 449h1v1h-1zM162 426h1v1h-1zM161 427h1v2h-1zM160 429h1v1h-1zM158 431h1v1h-1zM155 434h1v1h-1zM154 435h1v1h-1zM153 436h1v1h-1zM152 437h1v1h-1zM151 438h1v1h-1zM150 439h1v2h-1zM149 441h1v1h-1zM148 442h1v1h-1zM147 443h1v1h-1zM146 444h1v1h-1zM145 445h1v1h-1zM144 446h1v1h-1zM143 447h1v1h-1zM162 438h1v1h-1zM161 439h1v1h-1zM160 440h1v1h-1zM159 441h1v1h-1zM158 442h1v1h-1zM157 443h1v2h-1zM156 445h1v1h-1zM155 446h1v1h-1zM154 447h1v1h-1zM153 448h1v1h-1zM152 449h1v1h-1z" fill="#000" stroke="none"/>
<rect x="75.5" y="413.5" width="88" height="37" stroke="#000" fill="none"/>
<path d="M75.5 414.5H163.5" stroke="#000"/>
<rect x="75.5" y="450.5" width="90" height="28" stroke="#000" fill="none"/>
<rect x="78.5" y="467.5" width="8" height="6" stroke="#000" fill="none"/>
<rect x="97.5" y="467.5" width="8" height="6" stroke="#000" fill="none"/>
<rect x="116.5" y="467.5" width="8" height="6" stroke="#000" fill="none"/>
<rect x="135.5" y="467.5" width="7" height="6" stroke="#000" fill="none"/>
<rect x="153.5" y="467.5" width="8" height="6" stroke="#000" fill="none"/>
<path d="M75.5 478.5V490.5" stroke="#000"/>
<path d="M165.5 478.5V490.5" stroke="#000"/>
<path d="M75.5 490.5H79.5" stroke="#000"/>
<path d="M84.5 490.5H98.5" stroke="#000"/>
<path d="M103.5 490.5H117.5" stroke="#000"/>
<path d="M123.5 490.5H135.5" stroke="#000"/>
<path d="M141.5 490.5H154.5" stroke="#000"/>
<path d="M159.5 490.5H165.5" stroke="#000"/>
<path d="M79.5 478.5 L79.5 516.5 L84.5 516.5 L84.5 478.5" stroke="#000"/>
<path d="M86.5 490.5 L86.5 516.5 L92.5 516.5 L92.5 490.5" stroke="#000"/>
<path d="M98.5 478.5 L98.5 516.5 L103.5 516.5 L103.5 478.5" stroke="#000"/>
<path d="M117.5 478.5 L117.5 516.5 L123.5 516.5 L123.5 478.5" stroke="#000"/>
<path d="M135.5 478.5 L135.5 516.5 L141.5 516.5 L141.5 478.5" stroke="#000"/>
<path d="M147.5 490.5 L147.5 516.5 L152.5 516.5 L152.5 490.5" stroke="#000"/>
<path d="M154.5 478.5 L154.5 516.5 L159.5 516.5 L159.5 478.5" stroke="#000"/>
<path d="M75.5 368.5V449.5" stroke="#a81c24"/>
<path d="M165.5 368.5V448.5" stroke="#a81c24"/>
<path d="M75.5 371.5H165.5" stroke="#a81c24"/>
<rect x="76" y="370" width="4" height="2" fill="#a81c24" stroke="none"/>
<rect x="161" y="370" width="4" height="2" fill="#a81c24" stroke="none"/>
<rect x="80" y="369" width="4" height="4" fill="#e40000" stroke="none"/>
<rect x="157" y="369" width="4" height="4" fill="#e40000" stroke="none"/>
<text x="119.5" y="369.5" font-size="10" fill="#9c1a36" text-anchor="middle">14.0 max</text>
<path d="M140.5 392.5H186.5" stroke="#a81c24"/>
<path d="M165.5 490.5H186.5" stroke="#a81c24"/>
<path d="M183.5 392.5V490.5" stroke="#a81c24"/>
<rect x="183" y="393" width="2" height="3" fill="#a81c24" stroke="none"/>
<rect x="183" y="487" width="2" height="3" fill="#a81c24" stroke="none"/>
<rect x="182" y="396" width="3" height="5" fill="#e40000" stroke="none"/>
<rect x="182" y="482" width="3" height="5" fill="#e40000" stroke="none"/>
<text x="0" y="0" transform="translate(181.4 441.5) rotate(-90)" font-size="11" fill="#9c1a36" text-anchor="middle">14.0 max</text>
<rect x="261.5" y="391.5" width="78" height="23" stroke="#000" fill="none"/>
<path d="M272.5 391.5V414.5" stroke="#000"/>
<path d="M329.5 391.5V414.5" stroke="#000"/>
<path d="M256 416h1v1h-1zM254 419h1v1h-1zM253 420h1v1h-1zM252 421h1v1h-1zM251 422h1v1h-1zM268 415h1v1h-1zM267 416h1v1h-1zM266 417h1v1h-1zM265 418h1v1h-1zM264 419h1v1h-1zM263 420h1v1h-1zM262 421h1v1h-1zM261 422h1v2h-1zM260 424h1v1h-1zM259 425h1v1h-1zM258 426h1v1h-1zM257 427h1v1h-1zM256 428h1v1h-1zM255 429h1v1h-1zM254 430h1v1h-1zM253 431h1v1h-1zM252 432h1v1h-1zM251 433h1v1h-1zM279 415h1v1h-1zM278 416h1v1h-1zM277 417h1v1h-1zM276 418h1v1h-1zM275 419h1v1h-1zM274 420h1v1h-1zM273 421h1v1h-1zM272 422h1v1h-1zM271 423h1v1h-1zM270 424h1v1h-1zM268 426h1v1h-1zM265 430h1v1h-1zM264 431h1v1h-1zM263 432h1v1h-1zM262 433h1v1h-1zM261 434h1v1h-1zM260 435h1v1h-1zM259 436h1v1h-1zM258 437h1v1h-1zM257 438h1v1h-1zM256 439h1v2h-1zM255 441h1v1h-1zM254 442h1v1h-1zM253 443h1v1h-1zM289 415h1v1h-1zM288 416h1v1h-1zM287 417h1v1h-1zM286 418h1v1h-1zM285 419h1v2h-1zM284 421h1v1h-1zM283 422h1v1h-1zM282 423h1v1h-1zM281 424h1v1h-1zM280 425h1v1h-1zM279 426h1v1h-1zM278 427h1v1h-1zM277 428h1v1h-1zM276 429h1v1h-1zM275 430h1v1h-1zM274 431h1v2h-1zM273 433h1v1h-1zM272 434h1v1h-1zM271 435h1v1h-1zM270 436h1v1h-1zM269 437h1v1h-1zM268 438h1v1h-1zM267 439h1v1h-1zM266 440h1v1h-1zM265 441h1v1h-1zM264 442h1v1h-1zM263 443h1v2h-1zM262 445h1v1h-1zM261 446h1v1h-1zM260 447h1v1h-1zM259 448h1v1h-1zM258 449h1v1h-1zM300 415h1v1h-1zM297 418h1v1h-1zM294 421h1v1h-1zM293 422h1v1h-1zM292 423h1v1h-1zM291 424h1v2h-1zM290 426h1v1h-1zM289 427h1v1h-1zM288 428h1v1h-1zM287 429h1v1h-1zM286 430h1v1h-1zM285 431h1v1h-1zM284 432h1v1h-1zM283 433h1v1h-1zM282 434h1v1h-1zM280 437h1v1h-1zM277 440h1v1h-1zM276 441h1v1h-1zM275 442h1v1h-1zM274 443h1v1h-1zM273 444h1v1h-1zM272 445h1v1h-1zM271 446h1v1h-1zM270 447h1v1h-1zM269 448h1v2h-1zM310 415h1v1h-1zM309 416h1v1h-1zM308 417h1v2h-1zM307 419h1v1h-1zM306 420h1v1h-1zM305 421h1v1h-1zM304 422h1v1h-1zM303 423h1v1h-1zM302 424h1v1h-1zM301 425h1v1h-1zM300 426h1v1h-1zM299 427h1v1h-1zM298 428h1v1h-1zM297 429h1v2h-1zM296 431h1v1h-1zM295 432h1v1h-1zM294 433h1v1h-1zM293 434h1v1h-1zM292 435h1v1h-1zM291 436h1v1h-1zM290 437h1v1h-1zM289 438h1v1h-1zM288 439h1v1h-1zM287 440h1v1h-1zM286 441h1v2h-1zM285 443h1v1h-1zM284 444h1v1h-1zM283 445h1v1h-1zM282 446h1v1h-1zM281 447h1v1h-1zM280 448h1v1h-1zM279 449h1v1h-1zM321 415h1v1h-1zM320 416h1v1h-1zM319 417h1v1h-1zM318 418h1v1h-1zM317 419h1v1h-1zM316 420h1v1h-1zM315 421h1v1h-1zM314 422h1v2h-1zM313 424h1v1h-1zM312 425h1v1h-1zM311 426h1v1h-1zM309 428h1v1h-1zM306 431h1v1h-1zM305 432h1v1h-1zM304 433h1v1h-1zM303 434h1v2h-1zM302 436h1v1h-1zM301 437h1v1h-1zM300 438h1v1h-1zM299 439h1v1h-1zM298 440h1v1h-1zM297 441h1v1h-1zM296 442h1v1h-1zM295 443h1v1h-1zM294 444h1v1h-1zM293 445h1v1h-1zM291 448h1v1h-1zM332 415h1v1h-1zM331 416h1v1h-1zM330 417h1v1h-1zM329 418h1v1h-1zM328 419h1v1h-1zM327 420h1v1h-1zM326 421h1v1h-1zM325 422h1v1h-1zM324 423h1v1h-1zM323 424h1v1h-1zM322 425h1v1h-1zM321 426h1v1h-1zM320 427h1v2h-1zM319 429h1v1h-1zM318 430h1v1h-1zM317 431h1v1h-1zM316 432h1v1h-1zM315 433h1v1h-1zM314 434h1v1h-1zM313 435h1v1h-1zM312 436h1v1h-1zM311 437h1v1h-1zM310 438h1v1h-1zM309 439h1v2h-1zM308 441h1v1h-1zM307 442h1v1h-1zM306 443h1v1h-1zM305 444h1v1h-1zM304 445h1v1h-1zM303 446h1v1h-1zM302 447h1v1h-1zM301 448h1v1h-1zM300 449h1v1h-1zM342 415h1v1h-1zM341 416h1v1h-1zM340 417h1v1h-1zM338 420h1v1h-1zM335 423h1v1h-1zM334 424h1v1h-1zM333 425h1v1h-1zM332 426h1v1h-1zM331 427h1v1h-1zM330 428h1v1h-1zM329 429h1v1h-1zM328 430h1v1h-1zM327 431h1v2h-1zM326 433h1v1h-1zM325 434h1v1h-1zM324 435h1v1h-1zM323 436h1v1h-1zM320 439h1v1h-1zM317 442h1v1h-1zM316 443h1v2h-1zM315 445h1v1h-1zM314 446h1v1h-1zM313 447h1v1h-1zM312 448h1v1h-1zM311 449h1v1h-1zM349 419h1v1h-1zM348 420h1v1h-1zM347 421h1v1h-1zM346 422h1v1h-1zM345 423h1v1h-1zM344 424h1v2h-1zM343 426h1v1h-1zM342 427h1v1h-1zM341 428h1v1h-1zM340 429h1v1h-1zM339 430h1v1h-1zM338 431h1v1h-1zM337 432h1v1h-1zM336 433h1v1h-1zM335 434h1v1h-1zM334 435h1v1h-1zM333 436h1v2h-1zM332 438h1v1h-1zM331 439h1v1h-1zM330 440h1v1h-1zM329 441h1v1h-1zM328 442h1v1h-1zM327 443h1v1h-1zM326 444h1v1h-1zM325 445h1v1h-1zM324 446h1v1h-1zM323 447h1v1h-1zM322 448h1v2h-1zM349 431h1v1h-1zM347 433h1v1h-1zM346 434h1v1h-1zM345 435h1v1h-1zM344 436h1v1h-1zM343 437h1v1h-1zM342 438h1v1h-1zM341 439h1v1h-1zM340 440h1v1h-1zM339 441h1v2h-1zM338 443h1v1h-1zM337 444h1v1h-1zM336 445h1v1h-1zM335 446h1v1h-1zM334 447h1v1h-1zM332 449h1v1h-1zM349 442h1v1h-1zM348 443h1v1h-1zM347 444h1v1h-1zM346 445h1v1h-1zM345 446h1v2h-1zM344 448h1v1h-1zM343 449h1v1h-1z" fill="#000" stroke="none"/>
<rect x="250.5" y="414.5" width="100" height="36" stroke="#000" fill="none"/>
<rect x="247.5" y="450.5" width="25" height="28" stroke="#000" fill="none"/>
<rect x="329.5" y="450.5" width="45" height="28" stroke="#000" fill="none"/>
<path d="M272.5 472.5H329.5" stroke="#000"/>
<path d="M239.5 469.5H247.5" stroke="#000"/>
<path d="M239.5 478.5H247.5" stroke="#000"/>
<rect x="265.5" y="478.5" width="7" height="12" stroke="#000" fill="none"/>
<rect x="332.5" y="478.5" width="13" height="12" stroke="#000" fill="none"/>
<path d="M255.5 478.5 L255.5 516.5 L259.5 516.5 L259.5 478.5" stroke="#000"/>
<path d="M362.5 478.5 L362.5 516.5 L366.5 516.5 L366.5 478.5" stroke="#000"/>
<path d="M239.5 368.5V478.5" stroke="#a81c24"/>
<path d="M374.5 368.5V478.5" stroke="#a81c24"/>
<path d="M239.5 371.5H374.5" stroke="#a81c24"/>
<rect x="240" y="370" width="4" height="2" fill="#a81c24" stroke="none"/>
<rect x="370" y="370" width="4" height="2" fill="#a81c24" stroke="none"/>
<rect x="244" y="369" width="4" height="4" fill="#e40000" stroke="none"/>
<rect x="366" y="369" width="4" height="4" fill="#e40000" stroke="none"/>
<text x="306.5" y="369.4" font-size="10" fill="#9c1a36" text-anchor="middle">19.0 max</text>
<path d="M406.5 442.5 L406.5 387.5 L427.5 387.5 L427.5 397.5 L471.5 397.5" stroke="#000"/>
<path d="M432.5 397.5 L432.5 387.5 L440.5 387.5 L440.5 419.5 L435.5 442.5" stroke="#000"/>
<path d="M455.5 442.5 L455.5 387.5 L463.5 387.5 L463.5 419.5 L468.5 442.5" stroke="#000"/>
<path d="M448.5 397.5V442.5" stroke="#000"/>
<path d="M471.5 397.5 L471.5 387.5 L497.5 387.5 L497.5 442.5" stroke="#000"/>
<path d="M476.5 387.5V397.5" stroke="#000"/>
<path d="M406.5 442.5H497.5" stroke="#000"/>
<circle cx="422" cy="398" r="2.8" stroke="#000" fill="none"/>
<circle cx="482.5" cy="398" r="2.8" stroke="#000" fill="none"/>
<circle cx="419.5" cy="431" r="6.6" stroke="#000" fill="none"/>
<circle cx="485" cy="431" r="6.6" stroke="#000" fill="none"/>
<rect x="406.5" y="442.5" width="12" height="59" stroke="#000" fill="none"/>
<path d="M406.5 471.5H418.5" stroke="#000"/>
<rect x="486.5" y="442.5" width="11" height="59" stroke="#000" fill="none"/>
<path d="M486.5 471.5H497.5" stroke="#000"/>
<path d="M406.5 501.5H497.5" stroke="#000"/>
<path d="M406.5 501.5V525.5" stroke="#000"/>
<path d="M497.5 501.5V525.5" stroke="#000"/>
<path d="M406.5 509.5H420.5" stroke="#000"/>
<path d="M483.5 509.5H497.5" stroke="#000"/>
<path d="M420.5 501.5V525.5" stroke="#000"/>
<path d="M427.5 501.5V525.5" stroke="#000"/>
<path d="M439.5 501.5V525.5" stroke="#000"/>
<path d="M466.5 501.5V525.5" stroke="#000"/>
<path d="M476.5 501.5V525.5" stroke="#000"/>
<path d="M483.5 501.5V525.5" stroke="#000"/>
<path d="M447.5 501.5Q445.5 513.5 448.5 525.5" stroke="#000" />
<path d="M456.5 501.5Q458.5 513.5 455.5 525.5" stroke="#000" />
<path d="M406.5 525.5 L411.5 525.5 L411.5 531.5 L418.5 531.5 L418.5 525.5 L430.5 525.5 L430.5 531.5 L437.5 531.5 L437.5 525.5 L448.5 525.5 L448.5 531.5 L455.5 531.5 L455.5 525.5 L467.5 525.5 L467.5 531.5 L474.5 531.5 L474.5 525.5 L486.5 525.5 L486.5 531.5 L493.5 531.5 L493.5 525.5 L497.5 525.5" stroke="#000"/>
<path d="M414.5 513.5L417.5 517L414.5 520.5L411.5 517Z" stroke="#000" />
<path d="M489.5 513.5L492.5 517L489.5 520.5L486.5 517Z" stroke="#000" />
<ellipse cx="433.5" cy="517" rx="2.5" ry="3" stroke="#000" fill="none"/>
<ellipse cx="452" cy="517" rx="3" ry="3.5" stroke="#000" fill="none"/>
<ellipse cx="471" cy="517" rx="2.5" ry="3" stroke="#000" fill="none"/>
<path d="M421.5 368.5V398.5" stroke="#a81c24"/>
<path d="M482.5 368.5V398.5" stroke="#a81c24"/>
<path d="M421.5 371.5H482.5" stroke="#a81c24"/>
<rect x="422" y="370" width="4" height="2" fill="#a81c24" stroke="none"/>
<rect x="478" y="370" width="4" height="2" fill="#a81c24" stroke="none"/>
<rect x="426" y="369" width="4" height="4" fill="#e40000" stroke="none"/>
<rect x="474" y="369" width="4" height="4" fill="#e40000" stroke="none"/>
<text x="451.5" y="369" font-size="10" fill="#9c1a36" text-anchor="middle">9.0</text>
<path d="M482.5 397.5H512.5" stroke="#a81c24"/>
<path d="M482.5 516.5H512.5" stroke="#a81c24"/>
<path d="M509.5 397.5V516.5" stroke="#a81c24"/>
<rect x="509" y="398" width="2" height="3" fill="#a81c24" stroke="none"/>
<rect x="509" y="513" width="2" height="3" fill="#a81c24" stroke="none"/>
<rect x="508" y="401" width="3" height="5" fill="#e40000" stroke="none"/>
<rect x="508" y="508" width="3" height="5" fill="#e40000" stroke="none"/>
<text x="0" y="0" transform="translate(508 457.4) rotate(-90)" font-size="11" fill="#9c1a36" text-anchor="middle">16.0</text>
<path d="M414.5 517.5V547.5" stroke="#a81c24"/>
<path d="M433.5 517.5V547.5" stroke="#a81c24"/>
<path d="M414.5 544.5H433.5" stroke="#a81c24"/>
<rect x="415" y="543" width="4" height="2" fill="#a81c24" stroke="none"/>
<rect x="429" y="543" width="4" height="2" fill="#a81c24" stroke="none"/>
<rect x="419" y="542" width="4" height="4" fill="#e40000" stroke="none"/>
<rect x="425" y="542" width="4" height="4" fill="#e40000" stroke="none"/>
<text x="423.5" y="542" font-size="10" fill="#9c1a36" text-anchor="middle">2.7</text>
</g>
<path d="M34.8 66H37.8V102.6H33.3V73.4L25.6 78.7L24.9 75.2C29 72.5 33 69.5 34.8 66Z" fill="#000"/>
<text x="18.7" y="275.6" font-size="52" fill="#000">2</text>
<text x="18.7" y="462.6" font-size="52" fill="#000">3</text>
<text x="0" y="0" transform="translate(530.6 99.8) scale(0.898 1)" font-size="29" fill="#000">TYPE:</text>
<path d="M615.2 79h7.6v1.4h-2.4v19.2h2.4v1.4h-7.6v-1.4h2.6v-19.2h-2.6Z" fill="#111"/>
<text x="0" y="0" transform="translate(530.6 279.9) scale(0.898 1)" font-size="29" fill="#000">TYPE:</text>
<path d="M610.9 258.8h7.6v1.4h-2.4v19.50000000000001h2.4v1.4h-7.6v-1.4h2.6v-19.50000000000001h-2.6Z" fill="#111"/>
<path d="M620.0 258.8h7.6v1.4h-2.4v19.50000000000001h2.4v1.4h-7.6v-1.4h2.6v-19.50000000000001h-2.6Z" fill="#111"/>
<text x="0" y="0" transform="translate(530.6 453.9) scale(0.898 1)" font-size="29" fill="#000">TYPE:</text>
<path d="M606.0 431.9h7.6v1.4h-2.4v19.300000000000022h2.4v1.4h-7.6v-1.4h2.6v-19.300000000000022h-2.6Z" fill="#111"/>
<path d="M615.0 431.9h7.6v1.4h-2.4v19.300000000000022h2.4v1.4h-7.6v-1.4h2.6v-19.300000000000022h-2.6Z" fill="#111"/>
<path d="M624.1 431.9h7.6v1.4h-2.4v19.300000000000022h2.4v1.4h-7.6v-1.4h2.6v-19.300000000000022h-2.6Z" fill="#111"/>
</svg>
</body></html>
